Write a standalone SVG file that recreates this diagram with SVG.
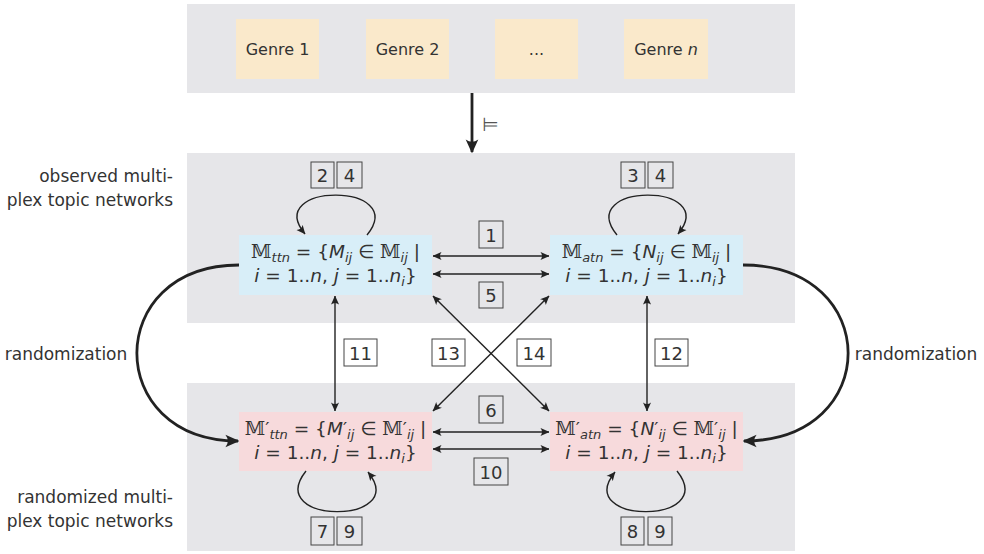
<svg xmlns="http://www.w3.org/2000/svg" width="984" height="554" viewBox="0 0 984 554">
<defs>
<style>
.panel{fill:#e6e6e9}
.genre{fill:#fae9cb}
.obs{fill:#d8eef8}
.rnd{fill:#f7dadc}
.t{font-family:"DejaVu Sans","Liberation Sans",sans-serif;fill:#333}
.side{font-size:17px}
.g{font-size:16px}
.math{font-family:"DejaVu Sans","Liberation Sans",sans-serif;font-size:18.5px;fill:#333}
.bb{font-family:"DejaVu Serif","DejaVu Sans",serif}
.it{font-style:italic}
.sub{font-size:13px;font-style:italic}
.lb{fill:none;stroke:#444;stroke-width:1}
.num{font-family:"DejaVu Sans","Liberation Sans",sans-serif;font-size:18px;fill:#333;text-anchor:middle}
.c{fill:none;stroke:#222;stroke-width:1.4}
.ck{fill:none;stroke:#222;stroke-width:2.8}
</style>
<marker id="ah" viewBox="0 0 10 10" refX="9.5" refY="5" markerWidth="9" markerHeight="9" markerUnits="userSpaceOnUse" orient="auto-start-reverse">
<path d="M10,5 L0,0.5 Q3.5,5 0,9.5 Z" fill="#222"/>
</marker>
<marker id="ahk" viewBox="0 0 10 10" refX="9" refY="5" markerWidth="14" markerHeight="14" markerUnits="userSpaceOnUse" orient="auto">
<path d="M10,5 L0,0.5 Q3.5,5 0,9.5 Z" fill="#222"/>
</marker>
</defs>
<rect width="984" height="554" fill="#ffffff"/>

<g id="panels">
<rect class="panel" x="187" y="4" width="608" height="89"/>
<rect class="panel" x="187" y="153" width="608" height="170"/>
<rect class="panel" x="187" y="383" width="608" height="168"/>
</g>

<g id="side-labels" class="t side">
<text x="173" y="182" text-anchor="end">observed multi-</text>
<text x="173" y="206" text-anchor="end">plex topic networks</text>
<text x="173" y="503" text-anchor="end">randomized multi-</text>
<text x="173" y="527" text-anchor="end">plex topic networks</text>
<text x="66" y="360" text-anchor="middle">randomization</text>
<text x="916" y="360" text-anchor="middle">randomization</text>
</g>

<g id="genre1"><rect class="genre" x="236" y="19" width="83" height="60"/><text class="t g" x="277.5" y="55" text-anchor="middle">Genre 1</text></g>
<g id="genre2"><rect class="genre" x="366" y="19" width="83" height="60"/><text class="t g" x="407.5" y="55" text-anchor="middle">Genre 2</text></g>
<g id="genre-dots"><rect class="genre" x="495" y="19" width="83" height="60"/><text class="t g" x="536.5" y="55" text-anchor="middle">...</text></g>
<g id="genren"><rect class="genre" x="624" y="19" width="84" height="60"/><text class="t g" x="666" y="55" text-anchor="middle">Genre <tspan class="it">n</tspan></text></g>

<g id="Mttn">
<rect class="obs" x="239" y="235" width="193" height="60"/>
<text class="math" x="335.5" y="258" text-anchor="middle"><tspan class="bb">𝕄</tspan><tspan class="sub" dy="4">ttn</tspan><tspan dy="-4"> = {</tspan><tspan class="it">M</tspan><tspan class="sub" dy="4">ij</tspan><tspan dy="-4"> ∈ </tspan><tspan class="bb">𝕄</tspan><tspan class="sub" dy="4">ij</tspan><tspan dy="-4"> |</tspan></text>
<text class="math" x="335.5" y="282" text-anchor="middle"><tspan class="it">i</tspan> = 1..<tspan class="it">n</tspan>, <tspan class="it">j</tspan> = 1..<tspan class="it">n</tspan><tspan class="sub" dy="4">i</tspan><tspan dy="-4">}</tspan></text>
</g>

<g id="Matn">
<rect class="obs" x="550" y="235" width="193" height="60"/>
<text class="math" x="646.5" y="258" text-anchor="middle"><tspan class="bb">𝕄</tspan><tspan class="sub" dy="4">atn</tspan><tspan dy="-4"> = {</tspan><tspan class="it">N</tspan><tspan class="sub" dy="4">ij</tspan><tspan dy="-4"> ∈ </tspan><tspan class="bb">𝕄</tspan><tspan class="sub" dy="4">ij</tspan><tspan dy="-4"> |</tspan></text>
<text class="math" x="646.5" y="282" text-anchor="middle"><tspan class="it">i</tspan> = 1..<tspan class="it">n</tspan>, <tspan class="it">j</tspan> = 1..<tspan class="it">n</tspan><tspan class="sub" dy="4">i</tspan><tspan dy="-4">}</tspan></text>
</g>

<g id="Mttn-rand">
<rect class="rnd" x="239" y="412" width="193" height="59"/>
<text class="math" x="335.5" y="435" text-anchor="middle"><tspan class="bb">𝕄</tspan>′<tspan class="sub" dy="4">ttn</tspan><tspan dy="-4"> = {</tspan><tspan class="it">M</tspan>′<tspan class="sub" dy="4">ij</tspan><tspan dy="-4"> ∈ </tspan><tspan class="bb">𝕄</tspan>′<tspan class="sub" dy="4">ij</tspan><tspan dy="-4"> |</tspan></text>
<text class="math" x="335.5" y="459" text-anchor="middle"><tspan class="it">i</tspan> = 1..<tspan class="it">n</tspan>, <tspan class="it">j</tspan> = 1..<tspan class="it">n</tspan><tspan class="sub" dy="4">i</tspan><tspan dy="-4">}</tspan></text>
</g>

<g id="Matn-rand">
<rect class="rnd" x="550" y="412" width="193" height="59"/>
<text class="math" x="646.5" y="435" text-anchor="middle"><tspan class="bb">𝕄</tspan>′<tspan class="sub" dy="4">atn</tspan><tspan dy="-4"> = {</tspan><tspan class="it">N</tspan>′<tspan class="sub" dy="4">ij</tspan><tspan dy="-4"> ∈ </tspan><tspan class="bb">𝕄</tspan>′<tspan class="sub" dy="4">ij</tspan><tspan dy="-4"> |</tspan></text>
<text class="math" x="646.5" y="459" text-anchor="middle"><tspan class="it">i</tspan> = 1..<tspan class="it">n</tspan>, <tspan class="it">j</tspan> = 1..<tspan class="it">n</tspan><tspan class="sub" dy="4">i</tspan><tspan dy="-4">}</tspan></text>
</g>

<g id="connectors">
<line class="ck" x1="472" y1="93" x2="472" y2="152" marker-end="url(#ahk)"/>
<path class="ck" d="M239,265 C103,265 103,441 238,441" marker-end="url(#ahk)"/>
<path class="ck" d="M743,265 C883,265 883,441 744,441" marker-end="url(#ahk)"/>
<line class="c" x1="433" y1="256" x2="549" y2="256" marker-start="url(#ah)" marker-end="url(#ah)"/>
<line class="c" x1="433" y1="274" x2="549" y2="274" marker-start="url(#ah)" marker-end="url(#ah)"/>
<line class="c" x1="433" y1="432" x2="549" y2="432" marker-start="url(#ah)" marker-end="url(#ah)"/>
<line class="c" x1="433" y1="449" x2="549" y2="449" marker-start="url(#ah)" marker-end="url(#ah)"/>
<line class="c" x1="335" y1="296" x2="335" y2="411" marker-start="url(#ah)" marker-end="url(#ah)"/>
<line class="c" x1="647" y1="296" x2="647" y2="411" marker-start="url(#ah)" marker-end="url(#ah)"/>
<line class="c" x1="433" y1="296" x2="549" y2="411" marker-start="url(#ah)" marker-end="url(#ah)"/>
<line class="c" x1="549" y1="296" x2="433" y2="411" marker-start="url(#ah)" marker-end="url(#ah)"/>
<path class="c" d="M367,235 C410,182 262,182 305,234" marker-end="url(#ah)"/>
<path class="c" d="M617,235 C574,182 721,182 678,234" marker-end="url(#ah)"/>
<path class="c" d="M306,471 C263,525 411,525 368,472" marker-end="url(#ah)"/>
<path class="c" d="M677,471 C720,525 572,525 615,472" marker-end="url(#ah)"/>
<text x="482" y="131" font-family="DejaVu Sans, sans-serif" font-size="19" fill="#555">⊨</text>
</g>

<g id="edge-labels">
<rect class="lb" x="311" y="162" width="23" height="26"/><text class="num" x="322.5" y="182">2</text>
<rect class="lb" x="337" y="162" width="25" height="26"/><text class="num" x="349.5" y="182">4</text>
<rect class="lb" x="621" y="162" width="24" height="26"/><text class="num" x="633" y="182">3</text>
<rect class="lb" x="648" y="162" width="25" height="26"/><text class="num" x="660.5" y="182">4</text>
<rect class="lb" x="479" y="221" width="24" height="27"/><text class="num" x="491" y="241.5">1</text>
<rect class="lb" x="479" y="282" width="24" height="26"/><text class="num" x="491" y="302">5</text>
<rect class="lb" x="344" y="339" width="33" height="27"/><text class="num" x="360.5" y="359.5">11</text>
<rect class="lb" x="432" y="339" width="33" height="27"/><text class="num" x="448.5" y="359.5">13</text>
<rect class="lb" x="517" y="339" width="34" height="27"/><text class="num" x="534" y="359.5">14</text>
<rect class="lb" x="655" y="339" width="33" height="27"/><text class="num" x="671.5" y="359.5">12</text>
<rect class="lb" x="479" y="396" width="24" height="27"/><text class="num" x="491" y="416.5">6</text>
<rect class="lb" x="474" y="458" width="34" height="27"/><text class="num" x="491" y="478.5">10</text>
<rect class="lb" x="311" y="517" width="23" height="28"/><text class="num" x="322.5" y="538">7</text>
<rect class="lb" x="337" y="517" width="25" height="28"/><text class="num" x="349.5" y="538">9</text>
<rect class="lb" x="621" y="517" width="23" height="28"/><text class="num" x="632.5" y="538">8</text>
<rect class="lb" x="648" y="517" width="24" height="28"/><text class="num" x="660" y="538">9</text>
</g>
</svg>
